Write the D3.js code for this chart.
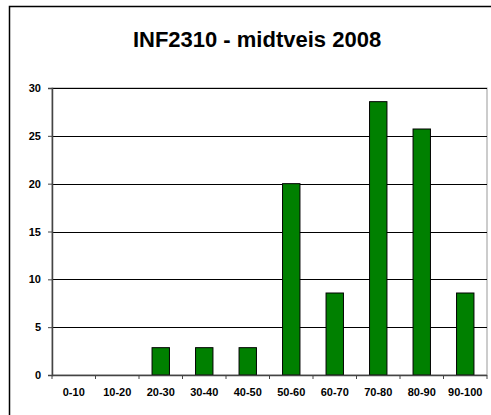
<!DOCTYPE html>
<html>
<head>
<meta charset="utf-8">
<script src="https://cdn.jsdelivr.net/npm/d3@7"></script>
<style>
  body { margin: 0; background: #fff; }
  svg { display: block; font-family: "Liberation Sans", Arial, sans-serif; }
</style>
</head>
<body>
<svg id="chart" width="491" height="415"></svg>
<script>
// score intervals and share of students (%) per interval
const categories = ["0-10", "10-20", "20-30", "30-40", "40-50", "50-60", "60-70", "70-80", "80-90", "90-100"];
const percent = [0, 0, 2.857, 2.857, 2.857, 20, 8.571, 28.571, 25.714, 8.571];
const yTicks = [0, 5, 10, 15, 20, 25, 30];
const title = "INF2310 - midtveis 2008";

const svg = d3.select("#chart");
const plot = { left: 52, right: 487, top: 88, bottom: 375 };

// outer chart frame (runs off the bottom/right of the picture)
svg.append("rect")
  .attr("x", 9.5).attr("y", 6.5)
  .attr("width", 520).attr("height", 520)
  .attr("fill", "#fff")
  .attr("stroke", "#000")
  .attr("stroke-width", 1.5);

svg.append("text")
  .attr("x", 257).attr("y", 46.5)
  .attr("text-anchor", "middle")
  .attr("font-size", "22px")
  .attr("font-weight", "bold")
  .text(title);

const x = d3.scaleBand()
  .domain(categories)
  .range([plot.left, plot.right])
  .paddingInner(0.6)
  .paddingOuter(0.3);

const y = d3.scaleLinear()
  .domain([0, 30])
  .range([plot.bottom, plot.top]);

// plot area border
svg.append("rect")
  .attr("x", plot.left).attr("y", plot.top)
  .attr("width", plot.right - plot.left)
  .attr("height", plot.bottom - plot.top)
  .attr("fill", "none")
  .attr("stroke", "#999")
  .attr("stroke-width", 1);

// gridlines
svg.append("g")
  .selectAll("line")
  .data(yTicks.filter(d => d > 0))
  .enter()
  .append("line")
  .attr("x1", plot.left).attr("x2", plot.right)
  .attr("y1", d => Math.round(y(d)) + 0.5)
  .attr("y2", d => Math.round(y(d)) + 0.5)
  .attr("stroke", "#000")
  .attr("stroke-width", 1);

// bars
svg.append("g")
  .selectAll("rect")
  .data(categories.map((c, i) => ({ c, v: percent[i] })).filter(d => d.v > 0))
  .enter()
  .append("rect")
  .attr("x", d => x(d.c))
  .attr("y", d => y(d.v))
  .attr("width", x.bandwidth())
  .attr("height", d => y(0) - y(d.v))
  .attr("fill", "#008000")
  .attr("stroke", "#000")
  .attr("stroke-width", 1);

// y axis
const yAxis = svg.append("g")
  .attr("transform", `translate(${plot.left},0)`)
  .call(d3.axisLeft(y).tickValues(yTicks).tickSize(4).tickPadding(7));
yAxis.select(".domain").attr("stroke", "#444").attr("stroke-width", 1.5);
yAxis.selectAll(".tick line").attr("stroke", "#444");
yAxis.selectAll("text")
  .attr("font-family", "Liberation Sans, Arial, sans-serif")
  .attr("font-size", "11px")
  .attr("font-weight", "bold")
  .attr("fill", "#000");

// x axis: ticks sit on band boundaries
const step = x.step();
const bounds = d3.range(categories.length + 1).map(i => plot.left + i * step);
const xg = svg.append("g");
xg.append("line")
  .attr("x1", plot.left).attr("x2", plot.right)
  .attr("y1", plot.bottom + 0.5).attr("y2", plot.bottom + 0.5)
  .attr("stroke", "#444").attr("stroke-width", 1.5);
xg.selectAll(".xt")
  .data(bounds)
  .enter()
  .append("line")
  .attr("x1", d => d).attr("x2", d => d)
  .attr("y1", plot.bottom).attr("y2", plot.bottom + 4)
  .attr("stroke", "#444");
xg.selectAll("text")
  .data(categories)
  .enter()
  .append("text")
  .attr("x", d => x(d) + x.bandwidth() / 2)
  .attr("y", 395.5)
  .attr("text-anchor", "middle")
  .attr("font-size", "11px")
  .attr("font-weight", "bold")
  .text(d => d);
</script>
</body>
</html>
